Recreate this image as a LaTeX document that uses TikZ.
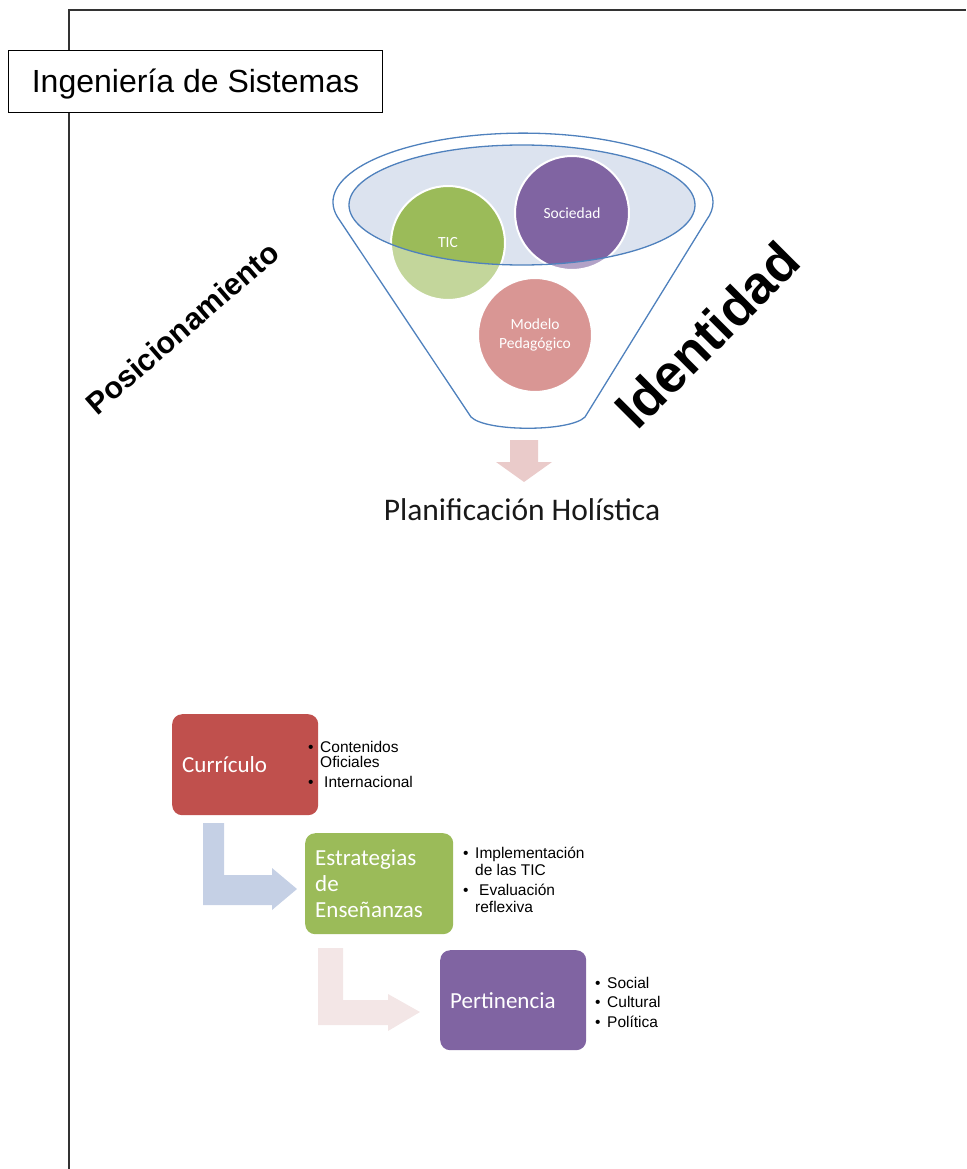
\documentclass[tikz,border=0pt]{standalone}
\usepackage{fontspec}
\setmainfont{Liberation Sans}
\newfontfamily\calibri{Carlito}
\definecolor{fblue}{HTML}{4F81BD}
\definecolor{ellfill}{HTML}{DCE3EF}
\definecolor{cgreen}{HTML}{9BBB59}
\definecolor{cred}{HTML}{C0504D}
\definecolor{cpurple}{HTML}{8064A2}
\definecolor{arrowpink}{HTML}{EACBCA}
\definecolor{arrowblue}{HTML}{C5D0E5}
\definecolor{arrowpinkb}{HTML}{F3E6E6}
\newcommand{\funnelpath}{(339.5,-220) arc[start angle=195, end angle=-15, x radius=190, y radius=69] -- (585,-417) .. controls (570,-432) and (486,-432) .. (471,-417) -- cycle}
\newcommand{\bl}{\makebox[12pt][l]{\textbullet}}
\tikzset{
  circ/.style={circle, draw=white, line width=2pt, inner sep=0pt, minimum size=114pt,
    text=white, align=center, font=\calibri\fontsize{15.5}{19}\selectfont},
  flowbox/.style={rectangle, rounded corners=10pt, anchor=north west, text width=126pt,
    inner xsep=10pt, inner ysep=0pt, minimum height=101pt, align=left, text=white,
    font=\calibri\fontsize{23}{26}\selectfont},
  lst/.style={font=\fontsize{15.5}{17}\selectfont, anchor=base west, inner sep=0pt, text=black},
  frame/.style={line width=1.3pt, draw=black!80}
}
\begin{document}
\begin{tikzpicture}[x=1pt, y=1pt]
\useasboundingbox (0,0) rectangle (966,-1169);
% frame
\coordinate (fb) at (69,-1169);
\coordinate (fc) at (69,-10);
\coordinate (fr) at (966,-10);
\draw[frame] (fb) -- (fc) -- (fr);
\node[draw, line width=1pt, fill=white, minimum width=374pt, minimum height=62pt, anchor=north west,
  font=\fontsize{32}{38}\selectfont, text height=22pt, text depth=0pt, inner sep=0pt] (title) at (8,-50) {Ingeniería de Sistemas};
% funnel
\fill[ellfill] (522,-205) ellipse [x radius=173, y radius=60];
\node[circ, fill=cgreen] (tic) at (448,-243) {TIC};
\node[circ, fill=cpurple] (soc) at (572,-213) {Sociedad};
\node[circ, fill=cred] (mod) at (535,-335) {Modelo\\Pedagógico};
\fill[white, fill opacity=0.4, even odd rule] \funnelpath (522,-205) ellipse [x radius=173, y radius=60];
\draw[fblue, line width=1.3pt] \funnelpath;
\draw[fblue, line width=1.3pt] (522,-205) ellipse [x radius=173, y radius=60];
\fill[arrowpink] (510,-440) -- (538,-440) -- (538,-462) -- (552,-462) -- (524,-482) -- (496,-462) -- (510,-462) -- cycle;
\node[font=\calibri\fontsize{31.5}{37}\selectfont, text=black!90, anchor=base, inner sep=0pt] (plan) at (522,-520) {Planificación Holística};
% rotated labels
\node[font=\bfseries\fontsize{30.5}{35}\selectfont, rotate=41, inner sep=0pt] (pos) at (182,-328) {Posicionamiento};
\node[font=\bfseries\fontsize{53}{60}\selectfont, rotate=45, inner sep=0pt] (ide) at (707,-335) {Identidad};
% flow arrows
\fill[arrowblue] (203,-823) -- (224,-823) -- (224,-875) -- (272,-875) -- (272,-868) -- (297,-889) -- (272,-910) -- (272,-905) -- (203,-905) -- cycle;
\fill[arrowpinkb] (318,-948) -- (343,-948) -- (343,-1000) -- (388,-1000) -- (388,-994) -- (420,-1012) -- (388,-1031) -- (388,-1025) -- (318,-1025) -- cycle;
% boxes
\node[flowbox, fill=cred] (cur) at (172,-714) {Currículo};
\node[flowbox, fill=cgreen, text width=128pt] (est) at (305,-833) {Estrategias\\de\\Enseñanzas};
\node[flowbox, fill=cpurple, minimum height=100pt] (per) at (440,-950) {Pertinencia};
% lists
\node[lst] (c1) at (308,-752) {\bl Contenidos};
\node[lst] (c2) at (320,-767) {Oficiales};
\node[lst] (c3) at (308,-787) {\bl\hspace{4pt}Internacional};
\node[lst] (e1) at (463,-858) {\bl Implementación};
\node[lst] (e2) at (475,-875) {de las TIC};
\node[lst] (e3) at (463,-895) {\bl\hspace{4pt}Evaluación};
\node[lst] (e4) at (475,-912) {reflexiva};
\node[lst] (p1) at (595,-988) {\bl Social};
\node[lst] (p2) at (595,-1007) {\bl Cultural};
\node[lst] (p3) at (595,-1027) {\bl Política};
\end{tikzpicture}
\end{document}
